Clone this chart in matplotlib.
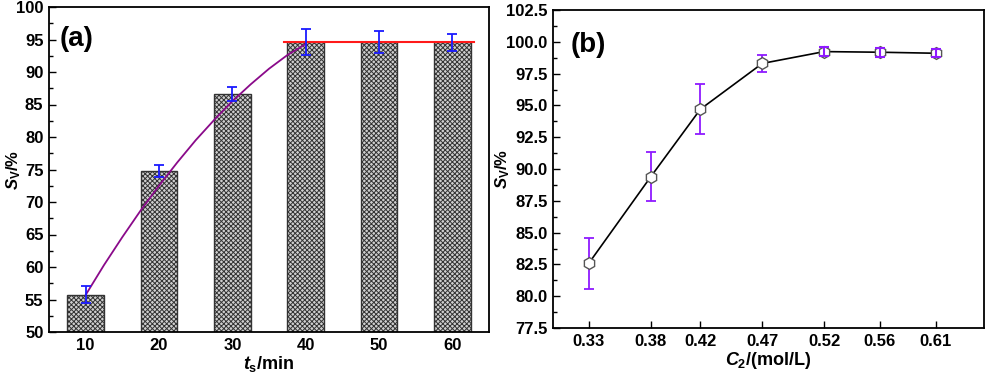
import matplotlib
matplotlib.use("Agg")
import matplotlib.pyplot as plt
from matplotlib.ticker import MultipleLocator

plt.rcParams['font.family'] = ['Liberation Sans', 'DejaVu Sans']
plt.rcParams['font.weight'] = 'bold'
plt.rcParams['hatch.linewidth'] = 0.7
plt.rcParams['mathtext.fontset'] = 'custom'
plt.rcParams['mathtext.rm'] = 'Liberation Sans:bold'
plt.rcParams['mathtext.it'] = 'Liberation Sans:bold:italic'
plt.rcParams['mathtext.bf'] = 'Liberation Sans:bold'

# ---- panel (a) data ----
time_min = [10, 20, 30, 40, 50, 60]
sv_a = [55.75, 74.8, 86.6, 94.6, 94.6, 94.6]
err_a = [1.35, 0.9, 1.1, 2.0, 1.75, 1.3]
fit_x = [10, 12.5, 15, 17.5, 20, 22.5, 25, 27.5, 30, 32.5, 35, 37.5, 40]
fit_y = [55.7, 60.3, 64.6, 68.7, 72.5, 76.1, 79.5, 82.6, 85.5, 88.1, 90.5, 92.6, 94.3]
plateau_x = [37, 63]
plateau_y = [94.6, 94.6]

# ---- panel (b) data ----
conc = [0.33, 0.38, 0.42, 0.47, 0.52, 0.565, 0.61]
conc_labels = ['0.33', '0.38', '0.42', '0.47', '0.52', '0.56', '0.61']
sv_b = [82.6, 89.4, 94.7, 98.3, 99.23, 99.18, 99.1]
err_b = [2.0, 1.9, 1.95, 0.7, 0.35, 0.35, 0.3]

W, H = 986, 373
fig = plt.figure(figsize=(W / 100, H / 100), dpi=100)

def style(ax):
    for s in ax.spines.values():
        s.set_linewidth(1.3)
    ax.tick_params(axis='both', which='both', direction='in', top=False, right=False,
                   labelsize=12, width=1.0, pad=4)
    ax.tick_params(axis='both', which='major', length=5)
    ax.tick_params(axis='y', which='minor', length=3)
    for lab in ax.get_xticklabels() + ax.get_yticklabels():
        lab.set_fontweight('bold')

# Panel (a)
a_left, a_w = 49, 440
axa = fig.add_axes([a_left / W, (H - 332) / H, a_w / W, 325 / H])
axa.bar(time_min, [v - 50 for v in sv_a], bottom=50, width=5, facecolor='#cfcfcf',
        edgecolor='#333333', hatch='xxxxxxx', linewidth=1.0, zorder=2)
axa.errorbar(time_min, sv_a, yerr=err_a, fmt='none', ecolor='#1a1aff',
             elinewidth=1.3, capsize=3.5, capthick=1.3, zorder=4)
axa.plot(fit_x, fit_y, color='#8a0a8a', lw=1.3, zorder=3)
axa.plot(plateau_x, plateau_y, color='#ff1a1a', lw=1.5, zorder=3)
axa.set_xlim(5, 65)
axa.set_ylim(50, 100)
axa.set_xticks(time_min)
axa.yaxis.set_major_locator(MultipleLocator(5))
axa.yaxis.set_minor_locator(MultipleLocator(2.5))
axa.set_xlabel(r'$\mathit{t}_{\mathrm{s}}$/min', fontsize=13, fontweight='bold', labelpad=1)
axa.set_ylabel(r'$\mathit{S}_{\mathrm{V}}$/%', fontsize=12, fontweight='bold')
axa.yaxis.set_label_coords((23 - a_left) / a_w, 0.5)
axa.text(0.025, 0.94, '(a)', transform=axa.transAxes, fontsize=20, fontweight='bold',
         va='top', ha='left')
style(axa)

# Panel (b)
b_left, b_w = 553, 431
axb = fig.add_axes([b_left / W, (H - 328) / H, b_w / W, 318 / H])
axb.errorbar(conc[:4], sv_b[:4], yerr=err_b[:4], fmt='none', ecolor='#8f1aff',
             elinewidth=1.3, capsize=3.5, capthick=1.3, zorder=2)
axb.plot(conc, sv_b, color='black', lw=1.2, marker='h', markersize=8.5,
         markerfacecolor='white', markeredgecolor='#555555', markeredgewidth=1.0, zorder=3)
axb.errorbar(conc[4:], sv_b[4:], yerr=err_b[4:], fmt='none', ecolor='#8f1aff',
             elinewidth=1.5, capsize=3.5, capthick=1.5, zorder=4)
axb.set_xlim(0.301, 0.649)
axb.set_ylim(77.5, 102.5)
axb.set_xticks(conc)
axb.set_xticklabels(conc_labels)
axb.yaxis.set_major_locator(MultipleLocator(2.5))
axb.yaxis.set_minor_locator(MultipleLocator(1.25))
axb.yaxis.set_major_formatter(matplotlib.ticker.FormatStrFormatter('%.1f'))
axb.set_xlabel(r'$\mathit{C}_{\mathrm{2}}$/(mol/L)', fontsize=13, fontweight='bold', labelpad=1)
axb.set_ylabel(r'$\mathit{S}_{\mathrm{V}}$/%', fontsize=12, fontweight='bold')
axb.yaxis.set_label_coords((512 - b_left) / b_w, 0.5)
axb.text(0.04, 0.93, '(b)', transform=axb.transAxes, fontsize=20, fontweight='bold',
         va='top', ha='left')
style(axb)

fig.savefig('out.png', dpi=100)
